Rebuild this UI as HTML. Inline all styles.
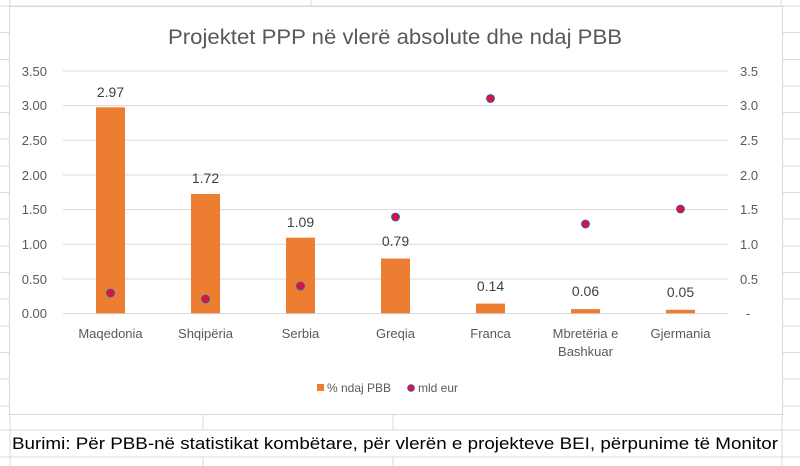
<!DOCTYPE html>
<html><head><meta charset="utf-8"><style>
html,body{margin:0;padding:0;background:#fff;}
svg{display:block;font-family:"Liberation Sans",Calibri,sans-serif;}
</style></head><body>
<svg width="800" height="466" viewBox="0 0 800 466" xmlns="http://www.w3.org/2000/svg">
<g stroke="#d9d9d9" stroke-width="1">
<line x1="0" y1="6" x2="800" y2="6"/>
<line x1="0" y1="32.5" x2="10" y2="32.5"/><line x1="0" y1="59.5" x2="10" y2="59.5"/><line x1="0" y1="86" x2="10" y2="86"/><line x1="0" y1="112.5" x2="10" y2="112.5"/>
<line x1="0" y1="139" x2="10" y2="139"/><line x1="0" y1="166" x2="10" y2="166"/><line x1="0" y1="192.5" x2="10" y2="192.5"/><line x1="0" y1="219" x2="10" y2="219"/>
<line x1="0" y1="246" x2="10" y2="246"/><line x1="0" y1="272.5" x2="10" y2="272.5"/><line x1="0" y1="299" x2="10" y2="299"/><line x1="0" y1="326" x2="10" y2="326"/>
<line x1="0" y1="352.5" x2="10" y2="352.5"/><line x1="0" y1="379" x2="10" y2="379"/><line x1="0" y1="406" x2="10" y2="406"/>
<line x1="783" y1="32.5" x2="800" y2="32.5"/><line x1="783" y1="59.5" x2="800" y2="59.5"/><line x1="783" y1="86" x2="800" y2="86"/><line x1="783" y1="112.5" x2="800" y2="112.5"/>
<line x1="783" y1="139" x2="800" y2="139"/><line x1="783" y1="166" x2="800" y2="166"/><line x1="783" y1="192.5" x2="800" y2="192.5"/><line x1="783" y1="219" x2="800" y2="219"/>
<line x1="783" y1="246" x2="800" y2="246"/><line x1="783" y1="272.5" x2="800" y2="272.5"/><line x1="783" y1="299" x2="800" y2="299"/><line x1="783" y1="326" x2="800" y2="326"/>
<line x1="783" y1="352.5" x2="800" y2="352.5"/><line x1="783" y1="379" x2="800" y2="379"/><line x1="783" y1="406" x2="800" y2="406"/>
<line x1="10" y1="0" x2="10" y2="466"/><line x1="311" y1="0" x2="311" y2="6"/><line x1="781" y1="0" x2="781" y2="6"/>
<line x1="0" y1="430" x2="800" y2="430"/><line x1="0" y1="457" x2="800" y2="457"/>
<line x1="203" y1="415" x2="203" y2="430"/><line x1="393" y1="415" x2="393" y2="430"/><line x1="203" y1="457" x2="203" y2="466"/><line x1="393" y1="457" x2="393" y2="466"/>
<line x1="782" y1="415" x2="782" y2="466"/>
</g>
<rect x="9.5" y="6.5" width="773" height="408" fill="#fff" stroke="#d9d9d9"/>
<text x="168" y="44" font-size="21" fill="#595959" textLength="454" lengthAdjust="spacingAndGlyphs">Projektet PPP në vlerë absolute dhe ndaj PBB</text>
<g stroke="#d9d9d9" stroke-width="1">
<line x1="63" y1="71" x2="728" y2="71"/><line x1="63" y1="105.6" x2="728" y2="105.6"/>
<line x1="63" y1="140.3" x2="728" y2="140.3"/><line x1="63" y1="175" x2="728" y2="175"/>
<line x1="63" y1="209.6" x2="728" y2="209.6"/><line x1="63" y1="244.3" x2="728" y2="244.3"/>
<line x1="63" y1="279" x2="728" y2="279"/><line x1="63" y1="313.5" x2="728" y2="313.5"/>
</g>
<g font-size="13" fill="#595959" text-anchor="end">
<text x="47" y="76">3.50</text><text x="47" y="110">3.00</text><text x="47" y="145">2.50</text><text x="47" y="180">2.00</text>
<text x="47" y="214">1.50</text><text x="47" y="249">1.00</text><text x="47" y="284">0.50</text><text x="47" y="318">0.00</text>
</g>
<g font-size="13" fill="#595959">
<text x="740" y="76">3.5</text><text x="740" y="110">3.0</text><text x="740" y="145">2.5</text><text x="740" y="180">2.0</text>
<text x="740" y="214">1.5</text><text x="740" y="249">1.0</text><text x="740" y="284">0.5</text><text x="746" y="318">-</text>
</g>
<g fill="#ed7d31">
<rect x="96" y="107.3" width="29" height="206"/>
<rect x="191" y="194" width="29" height="119.3"/>
<rect x="286" y="237.7" width="29" height="75.6"/>
<rect x="381" y="258.5" width="29" height="54.8"/>
<rect x="476" y="303.6" width="29" height="9.7"/>
<rect x="571" y="309.1" width="29" height="4.2"/>
<rect x="666" y="309.8" width="29" height="3.5"/>
</g>
<g font-size="14" fill="#404040" text-anchor="middle">
<text x="110.5" y="97">2.97</text><text x="205.5" y="183">1.72</text><text x="300.5" y="227">1.09</text>
<text x="395.5" y="246">0.79</text><text x="490.5" y="291">0.14</text><text x="585.5" y="296">0.06</text><text x="680.5" y="297">0.05</text>
</g>
<g fill="#e8112d" stroke="#4a4aa8" stroke-width="1.2">
<circle cx="110.5" cy="293" r="3.8"/><circle cx="205.5" cy="299" r="3.8"/><circle cx="300.5" cy="286" r="3.8"/>
<circle cx="395.5" cy="217" r="3.8"/><circle cx="490.5" cy="98.5" r="3.8"/><circle cx="585.5" cy="224" r="3.8"/><circle cx="680.5" cy="209" r="3.8"/>
</g>
<g font-size="13" fill="#595959" text-anchor="middle">
<text x="110.5" y="338">Maqedonia</text><text x="205.5" y="338">Shqipëria</text><text x="300.5" y="338">Serbia</text>
<text x="395.5" y="338">Greqia</text><text x="490.5" y="338">Franca</text><text x="585.5" y="338">Mbretëria e</text>
<text x="585.5" y="356">Bashkuar</text><text x="680.5" y="338">Gjermania</text>
</g>
<rect x="317" y="384" width="7" height="7" fill="#ed7d31"/>
<text x="327" y="392" font-size="12" fill="#595959">% ndaj PBB</text>
<circle cx="411" cy="388" r="3.3" fill="#e8112d" stroke="#4a4aa8" stroke-width="1"/>
<text x="418" y="392" font-size="12" fill="#595959">mld eur</text>
<text x="12" y="449" font-size="16.5" fill="#000" textLength="766" lengthAdjust="spacingAndGlyphs">Burimi: Për PBB-në statistikat kombëtare, për vlerën e projekteve BEI, përpunime të Monitor</text>
</svg>
</body></html>
